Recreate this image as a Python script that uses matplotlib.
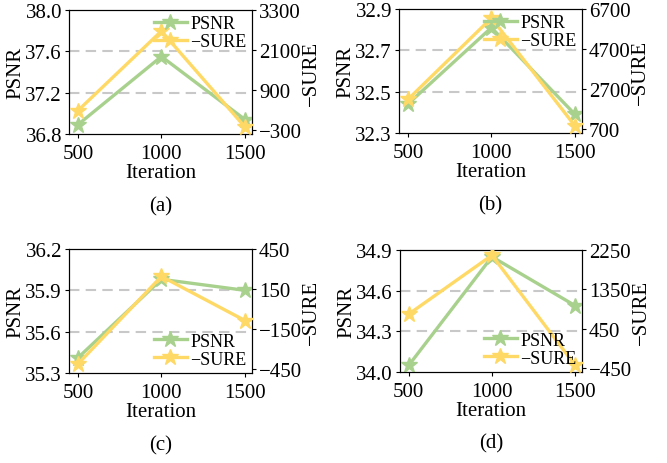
import numpy as np
import matplotlib.pyplot as plt

plt.rcParams['font.family'] = ['Liberation Serif', 'DejaVu Serif']
plt.rcParams['font.size'] = 15

iters = [500, 1000, 1500]

psnr_a = [36.89, 37.55, 36.94]
sure_a = [290, 2670, -200]
psnr_b = [32.44, 32.81, 32.39]
sure_b = [2190, 6250, 870]
psnr_c = [35.41, 35.98, 35.90]
sure_c = [-410, 245, -85]
psnr_d = [34.05, 34.85, 34.49]
sure_d = [790, 2130, -375]

left_ticks = [[36.8, 37.2, 37.6, 38.0], [32.3, 32.5, 32.7, 32.9],
              [35.3, 35.6, 35.9, 36.2], [34.0, 34.3, 34.6, 34.9]]
right_ticks = [[-300, 900, 2100, 3300], [700, 2700, 4700, 6700],
               [-450, -150, 150, 450], [-450, 450, 1350, 2250]]
captions = ['(a)', '(b)', '(c)', '(d)']

green = '#a9d18e'
yellow = '#ffd966'

fig = plt.figure(figsize=(6.67, 4.64), dpi=100)
boxes = [(69, 11, 252, 135), (399, 10, 582, 134),
         (69, 250, 252, 374), (400, 251, 582, 373)]
data = [(psnr_a, sure_a), (psnr_b, sure_b), (psnr_c, sure_c), (psnr_d, sure_d)]
leg_loc = ['upper right', 'upper right', 'lower right', 'lower right']

W, H = 667, 464
for i, (x0, y0, x1, y1) in enumerate(boxes):
    ax = fig.add_axes([x0 / W, 1 - y1 / H, (x1 - x0) / W, (y1 - y0) / H])
    ax2 = ax.twinx()
    psnr, sure = data[i]
    lt, rt = left_ticks[i], right_ticks[i]
    ax.set_ylim(lt[0], lt[-1])
    ax.set_yticks(lt)
    ax.set_yticklabels(['%.1f' % v for v in lt])
    rng = rt[-1] - rt[0]
    ax2.set_ylim(rt[0] - 0.03 * rng, rt[-1])
    ax2.set_yticks(rt)
    ax2.set_yticklabels([str(v).replace('-', '\u2212') for v in rt])
    for v in lt[1:-1]:
        ax.axhline(v, color='#c8c8c8', ls=(0, (5, 3)), lw=1.5, zorder=0)
    l1, = ax.plot(iters, psnr, color=green, lw=2.4, marker='*', ms=12, label='PSNR', zorder=3)
    l2, = ax2.plot(iters, sure, color=yellow, lw=2.4, marker='*', ms=12, label='\u2212SURE', zorder=3)
    ax.set_xlim(447, 1542)
    ax.set_xticks(iters)
    ax.set_xlabel('Iteration', labelpad=0)
    ax.set_ylabel('PSNR', labelpad=0)
    ax2.set_ylabel('\u2212SURE', labelpad=0)
    ax.tick_params(length=3, pad=2)
    ax.tick_params(axis='x', pad=4)
    ax2.tick_params(length=3, pad=2)
    ax2.legend([l1, l2], ['PSNR', '\u2212SURE'], loc=leg_loc[i], frameon=False,
               handlelength=1.8, handletextpad=0.2, labelspacing=0.05,
               borderpad=0.1, borderaxespad=0.2, fontsize=13)
    ax.text(0.5, -0.58, captions[i], transform=ax.transAxes, ha='center', va='center', fontsize=15)

fig.savefig('out.png', dpi=100)
